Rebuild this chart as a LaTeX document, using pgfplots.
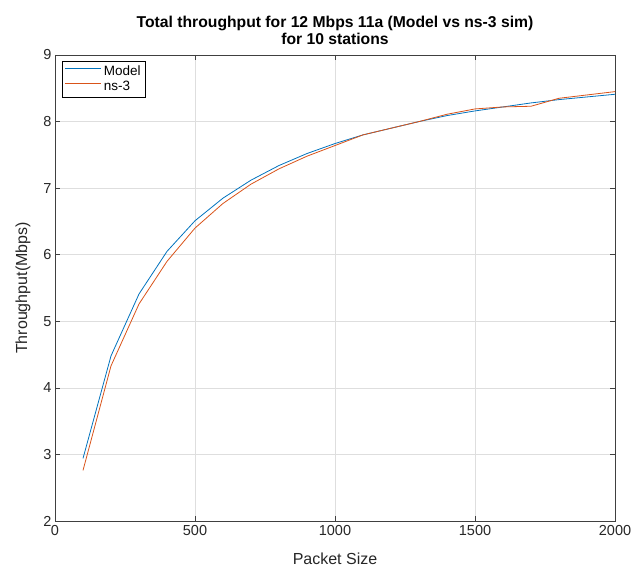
\documentclass[border=0pt]{standalone}
\usepackage{pgfplots}
\pgfplotsset{compat=1.18}
\usepackage{fontspec}
\setmainfont{Liberation Sans}
\definecolor{mblue}{rgb}{0,0.447,0.741}
\definecolor{morange}{rgb}{0.85,0.325,0.098}
\begin{document}
\begin{tikzpicture}
\useasboundingbox (0pt,0pt) rectangle (631pt,573pt);
\begin{axis}[
  at={(55pt,52pt)}, anchor=south west,
  width=560pt, height=466pt, scale only axis,
  xmin=0, xmax=2000, ymin=2, ymax=9,
  xtick={0,500,1000,1500,2000},
  ytick={2,3,4,5,6,7,8,9},
  /pgf/number format/assume math mode=true,
  /pgf/number format/1000 sep={},
  tick label style={font=\fontsize{14.5}{16}\selectfont, color=black!85},
  xticklabel style={yshift=-1pt},
  label style={font=\fontsize{16}{18}\selectfont, color=black!85},
  xlabel={Packet Size},
  ylabel={Throughput(Mbps)},
  xlabel style={yshift=-10pt},
  ylabel style={yshift=6pt},
  title style={font=\bfseries\fontsize{15.7}{17}\selectfont, align=center, yshift=1pt},
  title={Total throughput for 12 Mbps 11a (Model vs ns-3 sim)\\for 10 stations},
  grid=major,
  major grid style={color=black!13, line width=0.5pt},
  axis line style={color=black!75, line width=0.6pt},
  tick style={color=black!75, line width=0.6pt},
  tick align=inside,
  major tick length=5pt,
  legend style={font=\fontsize{13.5}{15}\selectfont, draw=black, line width=0.6pt, inner sep=3pt, row sep=0pt, at={(0.012,0.988)}, anchor=north west},
  legend cell align=left,
  legend image code/.code={\draw[#1, line width=0.9pt] (0pt,3pt) -- (36pt,3pt);},
]
\addplot[mblue, line width=0.8pt] coordinates {
(100,2.94) (200,4.48) (300,5.41) (400,6.05) (500,6.51) (600,6.85) (700,7.12) (800,7.34) (900,7.52) (1000,7.67) (1100,7.80) (1200,7.90) (1300,8.00) (1400,8.09) (1500,8.16) (1600,8.22) (1700,8.28) (1800,8.33) (1900,8.37) (2000,8.41)
};
\addlegendentry{Model}
\addplot[morange, line width=0.8pt] coordinates {
(100,2.76) (200,4.33) (300,5.26) (400,5.90) (500,6.40) (600,6.77) (700,7.06) (800,7.29) (900,7.48) (1000,7.64) (1100,7.80) (1200,7.90) (1300,8.00) (1400,8.11) (1500,8.19) (1600,8.22) (1700,8.23) (1800,8.35) (1900,8.40) (2000,8.45)
};
\addlegendentry{ns-3}
\end{axis}
\end{tikzpicture}
\end{document}
